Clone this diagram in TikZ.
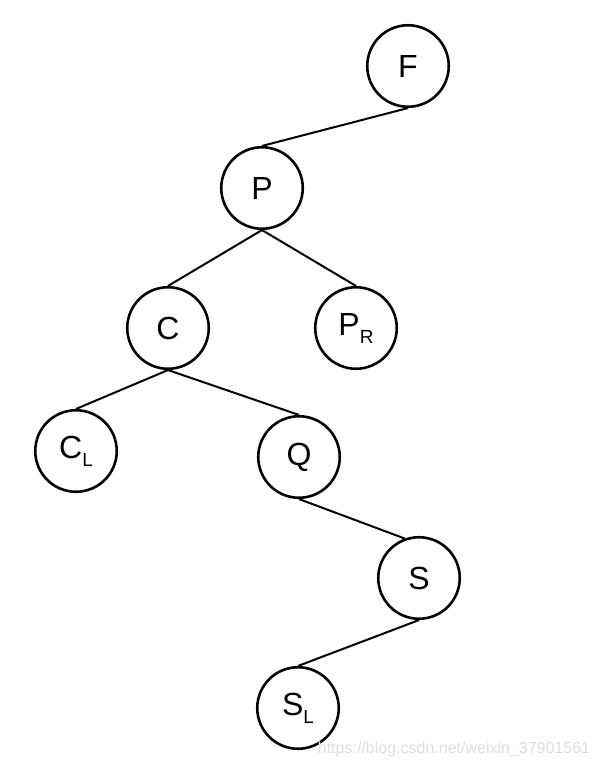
\documentclass[tikz,border=0pt]{standalone}
\usepackage{fontspec}
\setmainfont{Liberation Sans}
\usetikzlibrary{positioning}

\newcommand{\lowidx}[1]{\raisebox{-0.25em}{\fontsize{19}{19}\selectfont #1}}

\begin{document}
\begin{tikzpicture}[-,line width=2pt,on grid,
	main node/.style={circle,inner sep=0pt,draw,line width=2.6pt,font=\fontsize{32}{36}\selectfont,
		minimum size = 81.5pt}]

    \useasboundingbox (0,0) rectangle (598pt,-766pt);

    \node[main node] (F) at (408pt,-66pt) {F};
    \node[main node] (P) [below left = 122pt and 146pt of F] {P};
    \node[main node] (C) [below left = 140pt and 94pt of P] {C};
    \node[main node] (PR) [below right = 140pt and 94pt of P] {P\lowidx{R}};
    \node[main node] (CL) [below left = 123pt and 92pt of C] {C\lowidx{L}};
    \node[main node] (Q) [below right = 129pt and 131pt of C] {Q};
    \node[main node] (S) [below right = 121pt and 120pt of Q] {S};
    \node[main node] (SL) [below left = 130pt and 121pt of S] {S\lowidx{L}};

    \path[draw]
	(F.south) edge (P.north)
	(P.south) edge (C.north)
	(P.south) edge (PR.north)
	(C.south) edge (CL.north)
	(C.south) edge (Q.north)
	(Q.south) edge (S.110)
	(S.south) edge (SL.north);

    % watermark
    \node[anchor=base,text=black!13,font=\fontsize{16}{18}\selectfont] (mark) at (454pt,-753pt) {https://blog.csdn.net/weixin\_37901561};

	\end{tikzpicture}
\end{document}
